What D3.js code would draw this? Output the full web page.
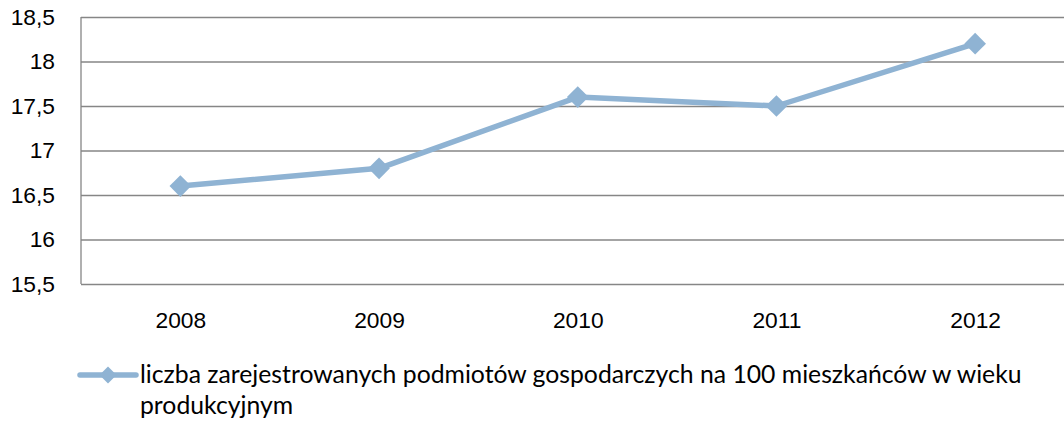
<!DOCTYPE html>
<html>
<head>
<meta charset="utf-8">
<script src="https://cdn.jsdelivr.net/npm/d3@7"></script>
<style>
  html, body { margin: 0; padding: 0; background: #fff; overflow: hidden; }
  svg { display: block; font-family: Lato, "Open Sans", sans-serif; }
</style>
</head>
<body>
<svg id="chart" width="1064" height="421"></svg>
<script>
// data
const years = ['2008', '2009', '2010', '2011', '2012'];
const values = [16.6, 16.8, 17.6, 17.5, 18.2];
const yTicks = [15.5, 16, 16.5, 17, 17.5, 18, 18.5];
const seriesName = 'liczba zarejestrowanych podmiotów gospodarczych na 100 mieszkańców w wieku';
const seriesName2 = 'produkcyjnym';

const chart = {};
chart.margin = { top: 17, left: 81 };
chart.plotHeight = 267;
chart.step = 198.7;
chart.color = '#8fb3d3';
chart.gridColor = '#868686';
chart.fontSize = 22.8;

chart.init = function(){
    "use strict";
    let svg = d3.select('#chart');
    let plotWidth = this.step * years.length;

    this.xScale = d3.scalePoint()
        .domain(years)
        .range([0, plotWidth])
        .padding(0.5);
    this.yScale = d3.scaleLinear()
        .domain([15.5, 18.5])
        .range([this.plotHeight, 0]);

    let g = svg.append('g')
        .attr('transform', 'translate(' + this.margin.left + ',' + this.margin.top + ')');

    // horizontal grid lines + y labels
    let yAxis = d3.axisLeft(this.yScale)
        .tickValues(yTicks)
        .tickSize(-plotWidth)
        .tickPadding(26)
        .tickFormat(d => String(d).replace('.', ','));
    let yg = g.append('g').call(yAxis);
    yg.select('.domain').remove();
    yg.selectAll('.tick line')
        .attr('stroke', chart.gridColor)
        .attr('stroke-width', 1.3);
    yg.selectAll('.tick text')
        .attr('fill', '#000')
        .style('font-size', chart.fontSize + 'px');

    // vertical axis line
    g.append('line')
        .attr('x1', 0).attr('x2', 0)
        .attr('y1', 0).attr('y2', this.plotHeight)
        .attr('stroke', chart.gridColor)
        .attr('stroke-width', 1.3);

    // x labels
    let xAxis = d3.axisBottom(this.xScale).tickSize(0).tickPadding(28);
    let xg = g.append('g')
        .attr('transform', 'translate(0,' + this.plotHeight + ')')
        .call(xAxis);
    xg.select('.domain').remove();
    xg.selectAll('.tick text')
        .attr('fill', '#000')
        .style('font-size', chart.fontSize + 'px');

    // series line
    let line = d3.line()
        .x((d, i) => this.xScale(years[i]))
        .y(d => this.yScale(d));
    g.append('path')
        .datum(values)
        .attr('d', line)
        .attr('fill', 'none')
        .attr('stroke', chart.color)
        .attr('stroke-width', 5.5)
        .attr('stroke-linejoin', 'round');

    let diamond = d3.symbol().type(d3.symbolSquare).size(235);
    g.selectAll('.marker')
        .data(values)
        .enter()
        .append('path')
        .attr('class', 'marker')
        .attr('d', diamond)
        .attr('fill', chart.color)
        .attr('transform', (d, i) => 'translate(' + this.xScale(years[i]) + ',' + this.yScale(d) + ') rotate(45)');

    // legend
    let lg = svg.append('g');
    lg.append('line')
        .attr('x1', 80).attr('x2', 136)
        .attr('y1', 375).attr('y2', 375)
        .attr('stroke', chart.color)
        .attr('stroke-width', 5.5)
        .attr('stroke-linecap', 'round');
    lg.append('path')
        .attr('d', d3.symbol().type(d3.symbolSquare).size(145))
        .attr('fill', chart.color)
        .attr('transform', 'translate(108,375) rotate(45)');
    let t1 = lg.append('text')
        .attr('x', 140).attr('y', 383)
        .style('font-size', chart.fontSize + 'px')
        .text(seriesName);
    // fit the first legend line to the width seen in the picture
    let fs = chart.fontSize * 882 / t1.node().getComputedTextLength();
    t1.style('font-size', fs + 'px');
    lg.append('text')
        .attr('x', 140).attr('y', 414)
        .style('font-size', fs + 'px')
        .text(seriesName2);
};

chart.init();
</script>
</body>
</html>
